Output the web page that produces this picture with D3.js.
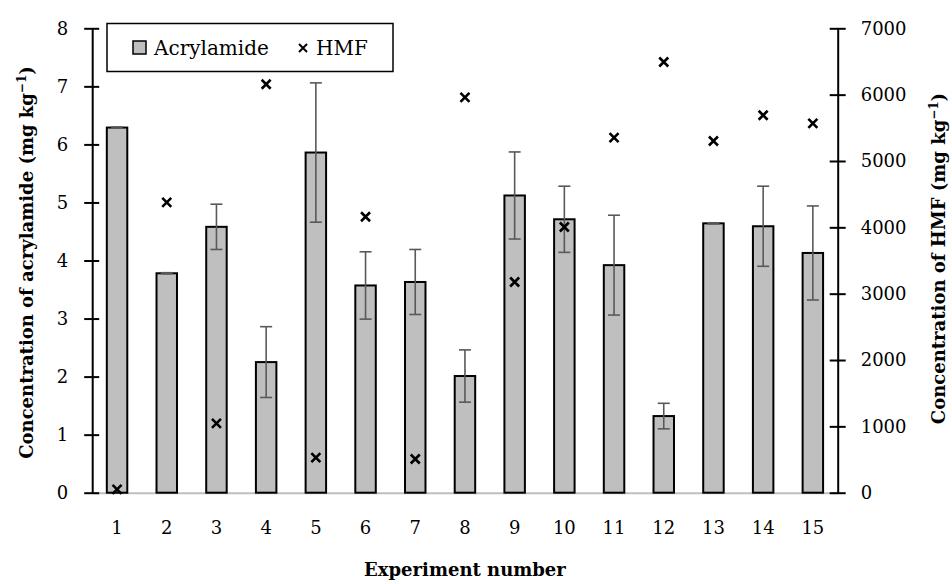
<!DOCTYPE html>
<html>
<head>
<meta charset="utf-8">
<script src="https://cdn.jsdelivr.net/npm/d3@7"></script>
<style>
  html, body { margin: 0; padding: 0; background: #fff; }
  svg { display: block; }
  text { font-family: "DejaVu Serif", "Liberation Serif", serif; fill: #000; }
</style>
</head>
<body>
<svg id="chart" width="952" height="584"></svg>
<script>
// ---- data ----
const experiments = ["1","2","3","4","5","6","7","8","9","10","11","12","13","14","15"];
const acrylamide = [6.29, 3.78, 4.58, 2.25, 5.86, 3.57, 3.63, 2.01, 5.12, 4.71, 3.92, 1.32, 4.64, 4.59, 4.13];
const acrylamideErr = [0.01, 0.01, 0.39, 0.61, 1.20, 0.58, 0.56, 0.45, 0.75, 0.57, 0.86, 0.22, 0.01, 0.69, 0.81];
const hmf = [50, 4377, 1046, 6156, 528, 4160, 508, 5960, 3176, 4005, 5351, 6492, 5301, 5689, 5568];
const leftTicks = [0, 1, 2, 3, 4, 5, 6, 7, 8];
const rightTicks = [0, 1000, 2000, 3000, 4000, 5000, 6000, 7000];

const svg = d3.select("#chart");
const plotLeft = 92.2, plotRight = 837.7, plotTop = 28.3, plotBottom = 492.7;

const x = d3.scaleBand().domain(experiments).range([plotLeft, plotRight])
  .paddingInner(0.588).paddingOuter(0.294);
const yL = d3.scaleLinear().domain([0, 8]).range([plotBottom, plotTop]);
const yR = d3.scaleLinear().domain([0, 7000]).range([plotBottom, plotTop]);

// x axis (gray baseline + labels)
const xAxis = svg.append("g").attr("transform", `translate(0,${yL(0)})`)
  .call(d3.axisBottom(x).tickSize(0).tickPadding(28.5));
xAxis.select(".domain").attr("stroke", "#bfbfbf").attr("stroke-width", 2);
xAxis.selectAll("text").style("font-family", "DejaVu Serif").style("font-size", "18px");

// bars
const rows = experiments.map((e, i) => ({e, a: acrylamide[i], err: acrylamideErr[i], h: hmf[i]}));
svg.append("g").selectAll("rect").data(rows).join("rect")
  .attr("x", d => x(d.e))
  .attr("width", x.bandwidth())
  .attr("y", d => yL(d.a))
  .attr("height", d => yL(0) - yL(d.a))
  .attr("fill", "#bfbfbf")
  .attr("stroke", "#000")
  .attr("stroke-width", 2);

// error bars
const eb = svg.append("g").attr("stroke", "#595959").attr("stroke-width", 1.6);
const cap = 6;
rows.forEach(d => {
  const cx = x(d.e) + x.bandwidth() / 2;
  eb.append("line").attr("x1", cx).attr("x2", cx).attr("y1", yL(d.a + d.err)).attr("y2", yL(d.a - d.err));
  eb.append("line").attr("x1", cx - cap).attr("x2", cx + cap).attr("y1", yL(d.a + d.err)).attr("y2", yL(d.a + d.err));
  eb.append("line").attr("x1", cx - cap).attr("x2", cx + cap).attr("y1", yL(d.a - d.err)).attr("y2", yL(d.a - d.err));
});

// HMF markers
const xs = 4.5;
const mk = svg.append("g").attr("stroke", "#000").attr("stroke-width", 2.6);
rows.forEach(d => {
  const cx = x(d.e) + x.bandwidth() / 2, cy = yR(d.h);
  mk.append("path").attr("d", `M${cx - xs},${cy - xs}L${cx + xs},${cy + xs}M${cx - xs},${cy + xs}L${cx + xs},${cy - xs}`);
});

// left axis
const lAxis = svg.append("g").attr("transform", `translate(${plotLeft},0)`)
  .call(d3.axisLeft(yL).tickValues(leftTicks).tickSize(8).tickSizeOuter(0).tickPadding(16));
lAxis.select(".domain").attr("stroke", "#000").attr("stroke-width", 2);
lAxis.selectAll(".tick line").attr("stroke", "#000").attr("stroke-width", 2).attr("x1", 7).attr("x2", -8);
lAxis.selectAll("text").style("font-family", "DejaVu Serif").style("font-size", "18px");

// right axis
const rAxis = svg.append("g").attr("transform", `translate(${plotRight},0)`)
  .call(d3.axisRight(yR).tickValues(rightTicks).tickSize(8).tickSizeOuter(0).tickPadding(15).tickFormat(d3.format("d")));
rAxis.select(".domain").attr("stroke", "#000").attr("stroke-width", 2);
rAxis.selectAll(".tick line").attr("stroke", "#000").attr("stroke-width", 2).attr("x1", -8).attr("x2", 8);
rAxis.selectAll("text").style("font-family", "DejaVu Serif").style("font-size", "18px");

// axis titles
const lt = svg.append("text")
  .attr("transform", `translate(33,${(plotTop + plotBottom) / 2 + 2}) rotate(-90)`)
  .attr("text-anchor", "middle").style("font-size", "18px").style("font-weight", "bold");
lt.append("tspan").text("Concentration of acrylamide (mg kg");
lt.append("tspan").attr("dy", -7).style("font-size", "12px").text("\u22121");
lt.append("tspan").attr("dy", 7).text(")");

const rt = svg.append("text")
  .attr("transform", `translate(945,${(plotTop + plotBottom) / 2 - 2}) rotate(-90)`)
  .attr("text-anchor", "middle").style("font-size", "18px").style("font-weight", "bold");
rt.append("tspan").text("Concentration of HMF (mg kg");
rt.append("tspan").attr("dy", -7).style("font-size", "12px").text("\u22121");
rt.append("tspan").attr("dy", 7).text(")");

svg.append("text").attr("x", (plotLeft + plotRight) / 2).attr("y", 576)
  .attr("text-anchor", "middle").style("font-size", "18px").style("font-weight", "bold")
  .text("Experiment number");

// legend
const lg = svg.append("g");
lg.append("rect").attr("x", 107).attr("y", 23.5).attr("width", 286).attr("height", 48)
  .attr("fill", "#fff").attr("stroke", "#000").attr("stroke-width", 1.5);
lg.append("rect").attr("x", 133).attr("y", 41).attr("width", 13).attr("height", 13)
  .attr("fill", "#bfbfbf").attr("stroke", "#000").attr("stroke-width", 1.5);
lg.append("text").attr("x", 154).attr("y", 55).style("font-size", "20px").text("Acrylamide");
lg.append("path").attr("d", "M299,44L307,52M299,52L307,44").attr("stroke", "#000").attr("stroke-width", 2);
lg.append("text").attr("x", 316).attr("y", 55).style("font-size", "20px").text("HMF");
</script>
</body>
</html>
